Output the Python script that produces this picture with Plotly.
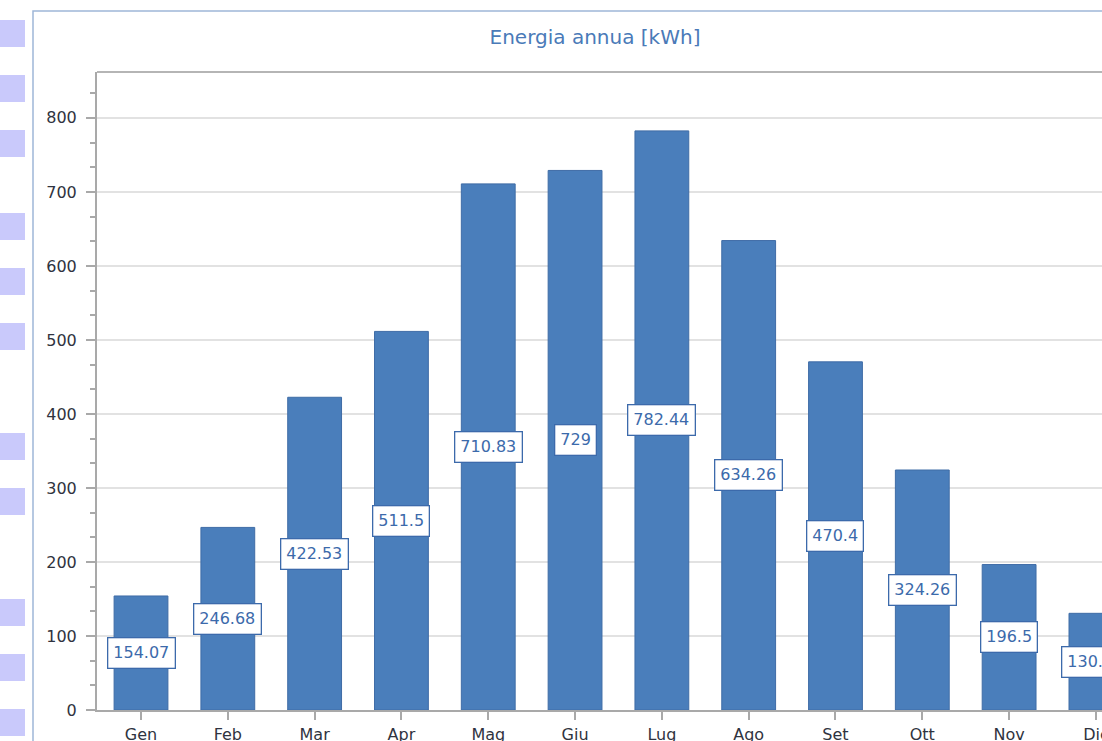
import plotly.graph_objects as go

months = ["Gen", "Feb", "Mar", "Apr", "Mag", "Giu", "Lug", "Ago", "Set", "Ott", "Nov", "Dic"]
energy = [154.07, 246.68, 422.53, 511.5, 710.83, 729, 782.44, 634.26, 470.4, 324.26, 196.5, 130.62]
y_ticks = [0, 100, 200, 300, 400, 500, 600, 700, 800]
title_text = "Energia annua [kWh]"

W, H = 1102, 741
ML, MR, MT, MB = 97, 0, 72, 31
PW, PH = W - ML - MR, H - MT - MB


def px(x):
    return (x - ML) / PW


def py(y):
    return (H - MB - y) / PH


BAR = "#4a7ebb"
BAR_LINE = "#3f6ca6"
LBL = "#3c6aab"
AXIS = "#a9a9a9"
GRID = "#e2e2e2"
FONT = "DejaVu Sans"

fig = go.Figure()
fig.add_trace(go.Bar(
    x=months, y=energy, width=0.62,
    marker=dict(color=BAR, line=dict(color=BAR_LINE, width=1)),
    hoverinfo="x+y",
))

for m, v in zip(months, energy):
    fig.add_annotation(
        x=m, y=v / 2, xref="x", yref="y", text=f"{v:g}", showarrow=False,
        font=dict(family=FONT, size=16, color=LBL),
        bgcolor="white", bordercolor=LBL, borderwidth=1.3, borderpad=5,
    )

shapes = []
# lavender squares on the left
for top in [20, 75, 130, 213, 268, 323, 433, 488, 599, 654, 709]:
    shapes.append(dict(type="rect", xref="paper", yref="paper",
                       x0=px(0), x1=px(25), y0=py(top + 27), y1=py(top),
                       fillcolor="#c9c9fb", line=dict(width=0), layer="below"))
# panel border
shapes.append(dict(type="rect", xref="paper", yref="paper",
                   x0=px(33), x1=px(1300), y0=py(900), y1=py(11),
                   fillcolor="rgba(0,0,0,0)", line=dict(color="#9fb6d8", width=1.5), layer="below"))
# top border of the plot area
shapes.append(dict(type="line", xref="paper", yref="paper",
                   x0=0, x1=1.05, y0=1, y1=1,
                   line=dict(color="#b5b5b5", width=2)))
fig.update_layout(shapes=shapes)

fig.update_layout(
    width=W, height=H,
    margin=dict(l=ML, r=MR, t=MT, b=MB, pad=0, autoexpand=False),
    paper_bgcolor="white", plot_bgcolor="white",
    showlegend=False, bargap=0.38,
    title=dict(text=title_text, x=595 / W, xanchor="center",
               y=1 - 37 / H, yanchor="middle", yref="container",
               font=dict(family=FONT, size=20, color="#4a7ab8")),
    xaxis=dict(
        type="category", range=[-0.507, 11.07], showgrid=False, automargin=False,
        showline=True, linecolor=AXIS, linewidth=2,
        ticks="outside", ticklen=8, tickcolor=AXIS, tickwidth=1.5,
        tickfont=dict(family=FONT, size=16, color="#2f3340"),
        ticklabelstandoff=1,
    ),
    yaxis=dict(
        range=[0, 862], tickvals=y_ticks, showgrid=True, gridcolor=GRID, gridwidth=1.5,
        automargin=False,
        zeroline=False, showline=True, linecolor=AXIS, linewidth=2,
        ticks="outside", ticklen=9, tickcolor=AXIS, tickwidth=1.5,
        tickfont=dict(family=FONT, size=16, color="#2f3340"),
        ticklabelstandoff=6,
        minor=dict(dtick=100 / 3, tick0=0, ticks="outside", ticklen=5,
                   tickcolor=AXIS, tickwidth=1.5, showgrid=False),
    ),
)

fig.write_html(
    "out.html",
    config={"displayModeBar": False},
    post_script="document.body.style.margin='0';document.body.style.overflow='hidden';",
)
